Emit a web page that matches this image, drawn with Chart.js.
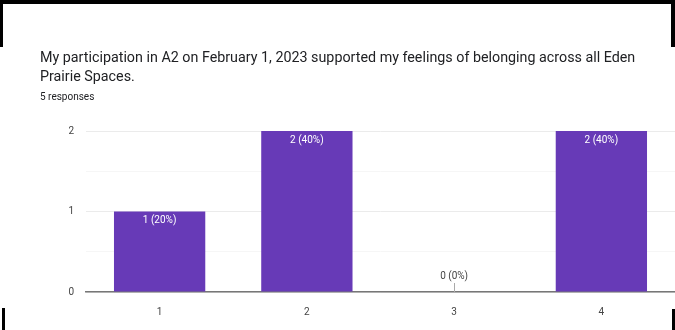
<!DOCTYPE html>
<html lang="en">
<head>
    <title>Belonging survey</title>
    <script src="https://cdn.jsdelivr.net/npm/chart.js"></script>
    <style>
        body {
            margin: 0;
            background: white;
            font-family: Roboto, Arial, sans-serif;
        }

        .frame {
            position: relative;
            width: 675px;
            height: 330px;
            overflow: hidden;
        }

        .edge {
            position: absolute;
            background: black;
        }
    </style>
</head>
<body>
    <div class="frame">
        <canvas id="responseChart" width="675" height="330"></canvas>
        <div class="edge" style="left:0;top:0;width:675px;height:4px"></div>
        <div class="edge" style="left:0;top:0;width:3px;height:47px"></div>
        <div class="edge" style="left:2px;top:308px;width:3px;height:22px"></div>
        <div class="edge" style="left:671px;top:0;width:4px;height:47px"></div>
        <div class="edge" style="left:672px;top:309px;width:3px;height:21px"></div>
    </div>

    <script>
        const questionLines = [
            'My participation in A2 on February 1, 2023 supported my feelings of belonging across all Eden',
            'Prairie Spaces.'
        ];
        const responseNote = '5 responses';
        const categories = ['1', '2', '3', '4'];
        const counts = [1, 2, 0, 2];
        const yTicks = [0, 1, 2];

        const total = counts.reduce((a, b) => a + b, 0);

        // labels on top of each bar, like Google Forms
        const barLabels = {
            id: 'barLabels',
            afterDatasetsDraw(chart) {
                const ctx = chart.ctx;
                const meta = chart.getDatasetMeta(0);
                ctx.save();
                ctx.font = '10px Roboto, Arial, sans-serif';
                ctx.textAlign = 'center';
                ctx.textBaseline = 'middle';
                meta.data.forEach((bar, i) => {
                    const v = counts[i];
                    const text = v + ' (' + Math.round(v / total * 100) + '%)';
                    if (v > 0) {
                        ctx.fillStyle = 'white';
                        ctx.fillText(text, bar.x, bar.y + 9);
                    } else {
                        ctx.fillStyle = '#444';
                        ctx.fillText(text, bar.x, bar.y - 16);
                        ctx.strokeStyle = '#aaa';
                        ctx.lineWidth = 1;
                        ctx.beginPath();
                        ctx.moveTo(Math.round(bar.x) + 0.5, bar.y - 9);
                        ctx.lineTo(Math.round(bar.x) + 0.5, bar.y);
                        ctx.stroke();
                    }
                });
                ctx.restore();
            }
        };

        new Chart(document.getElementById('responseChart'), {
            type: 'bar',
            data: {
                labels: categories,
                datasets: [{
                    data: counts,
                    backgroundColor: '#673ab7',
                    categoryPercentage: 1,
                    barPercentage: 0.62
                }]
            },
            options: {
                responsive: false,
                animation: false,
                layout: {
                    padding: { left: 40, right: 0, top: 0, bottom: 10 }
                },
                plugins: {
                    legend: { display: false },
                    tooltip: { enabled: false },
                    title: {
                        display: true,
                        text: questionLines,
                        align: 'start',
                        color: '#202124',
                        font: { family: 'Roboto', size: 14.3, weight: 'normal', lineHeight: 1.33 },
                        padding: { top: 49, bottom: 4 }
                    },
                    subtitle: {
                        display: true,
                        text: responseNote,
                        align: 'start',
                        color: '#202124',
                        font: { family: 'Roboto', size: 10, lineHeight: 1.2 },
                        padding: { top: 0, bottom: 28 }
                    }
                },
                scales: {
                    x: {
                        grid: { display: false },
                        border: { color: '#777', width: 1.5 },
                        ticks: {
                            color: '#444',
                            padding: 6,
                            font: { family: 'Roboto', size: 10 }
                        },
                        afterFit(scale) { scale.height = 28; }
                    },
                    y: {
                        min: 0,
                        max: 2,
                        border: { display: false },
                        afterBuildTicks(scale) {
                            scale.ticks = [0, 0.5, 1, 1.5, 2].map(v => ({ value: v }));
                        },
                        grid: {
                            drawTicks: false,
                            color: ctx => yTicks.includes(ctx.tick.value) ? '#ebebeb' : '#f6f6f6'
                        },
                        ticks: {
                            color: '#444',
                            padding: 12,
                            font: { family: 'Roboto', size: 10 },
                            callback: v => yTicks.includes(v) ? String(v) : ''
                        },
                        afterFit(scale) { scale.width = 46; }
                    }
                }
            },
            plugins: [barLabels]
        });
    </script>
</body>
</html>
